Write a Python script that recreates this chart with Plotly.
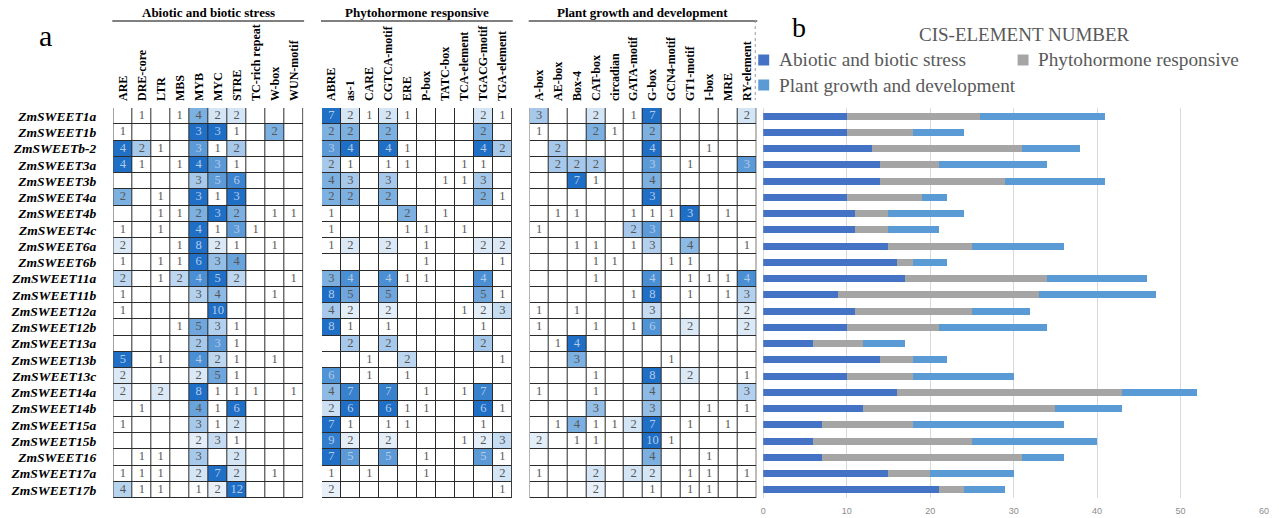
import numpy as np
import plotly.graph_objects as go

# ---- data -------------------------------------------------------------
genes = [
    "ZmSWEET1a", "ZmSWEET1b", "ZmSWEETb-2", "ZmSWEET3a", "ZmSWEET3b", "ZmSWEET4a",
    "ZmSWEET4b", "ZmSWEET4c", "ZmSWEET6a", "ZmSWEET6b", "ZmSWEET11a", "ZmSWEET11b",
    "ZmSWEET12a", "ZmSWEET12b", "ZmSWEET13a", "ZmSWEET13b", "ZmSWEET13c", "ZmSWEET14a",
    "ZmSWEET14b", "ZmSWEET15a", "ZmSWEET15b", "ZmSWEET16", "ZmSWEET17a", "ZmSWEET17b",
]

group_names = ["Abiotic and biotic stress", "Phytohormone responsive",
               "Plant growth and development"]

stress_elements = ["ARE", "DRE-core", "LTR", "MBS", "MYB", "MYC", "STRE",
                   "TC-rich repeat", "W-box", "WUN-motif"]
stress_counts = [
    [0, 1, 0, 1, 4, 2, 2, 0, 0, 0],
    [1, 0, 0, 0, 3, 3, 1, 0, 2, 0],
    [4, 2, 1, 0, 3, 1, 2, 0, 0, 0],
    [4, 1, 0, 1, 4, 3, 1, 0, 0, 0],
    [0, 0, 0, 0, 3, 5, 6, 0, 0, 0],
    [2, 0, 1, 0, 3, 1, 3, 0, 0, 0],
    [0, 0, 1, 1, 2, 3, 2, 0, 1, 1],
    [1, 0, 1, 0, 4, 1, 3, 1, 0, 0],
    [2, 0, 0, 1, 8, 2, 1, 0, 1, 0],
    [1, 0, 1, 1, 6, 3, 4, 0, 0, 0],
    [2, 0, 1, 2, 4, 5, 2, 0, 0, 1],
    [1, 0, 0, 0, 3, 4, 0, 0, 1, 0],
    [1, 0, 0, 0, 0, 10, 0, 0, 0, 0],
    [0, 0, 0, 1, 5, 3, 1, 0, 0, 0],
    [0, 0, 0, 0, 2, 3, 1, 0, 0, 0],
    [5, 0, 1, 0, 4, 2, 1, 0, 1, 0],
    [2, 0, 0, 0, 2, 5, 1, 0, 0, 0],
    [2, 0, 2, 0, 8, 1, 1, 1, 0, 1],
    [0, 1, 0, 0, 4, 1, 6, 0, 0, 0],
    [1, 0, 0, 0, 3, 1, 2, 0, 0, 0],
    [0, 0, 0, 0, 2, 3, 1, 0, 0, 0],
    [0, 1, 1, 0, 3, 0, 2, 0, 0, 0],
    [1, 1, 1, 0, 2, 7, 2, 0, 1, 0],
    [4, 1, 1, 0, 1, 2, 12, 0, 0, 0],
]

hormone_elements = ["ABRE", "as-1", "CARE", "CGTCA-motif", "ERE", "P-box", "TATC-box",
                    "TCA-element", "TGACG-motif", "TGA-element"]
hormone_counts = [
    [7, 2, 1, 2, 1, 0, 0, 0, 2, 1],
    [2, 2, 0, 2, 0, 0, 0, 0, 2, 0],
    [3, 4, 0, 4, 1, 0, 0, 0, 4, 2],
    [2, 1, 0, 1, 1, 0, 0, 1, 1, 0],
    [4, 3, 0, 3, 0, 0, 1, 1, 3, 0],
    [2, 2, 0, 2, 0, 0, 0, 0, 2, 1],
    [1, 0, 0, 0, 2, 0, 1, 0, 0, 0],
    [1, 0, 0, 0, 1, 1, 0, 1, 0, 0],
    [1, 2, 0, 2, 0, 1, 0, 0, 2, 2],
    [0, 0, 0, 0, 0, 1, 0, 0, 0, 1],
    [3, 4, 0, 4, 1, 1, 0, 0, 4, 0],
    [8, 5, 0, 5, 0, 0, 0, 0, 5, 1],
    [4, 2, 0, 2, 0, 0, 0, 1, 2, 3],
    [8, 1, 0, 1, 0, 0, 0, 0, 1, 0],
    [0, 2, 0, 2, 0, 0, 0, 0, 2, 0],
    [0, 0, 1, 0, 2, 0, 0, 0, 0, 1],
    [6, 0, 1, 0, 1, 0, 0, 0, 0, 0],
    [4, 7, 0, 7, 0, 1, 0, 1, 7, 0],
    [2, 6, 0, 6, 1, 1, 0, 0, 6, 1],
    [7, 1, 0, 1, 1, 0, 0, 0, 1, 0],
    [9, 2, 0, 2, 0, 0, 0, 1, 2, 3],
    [7, 5, 0, 5, 0, 1, 0, 0, 5, 1],
    [1, 0, 1, 0, 0, 1, 0, 0, 0, 2],
    [2, 0, 0, 0, 0, 0, 0, 0, 0, 1],
]

growth_elements = ["A-box", "AE-box", "Box-4", "CAT-box", "circadian", "GATA-motif",
                   "G-box", "GCN4-motif", "GT1-motif", "I-box", "MRE", "RY-element"]
growth_counts = [
    [3, 0, 0, 2, 0, 1, 7, 0, 0, 0, 0, 2],
    [1, 0, 0, 2, 1, 0, 2, 0, 0, 0, 0, 0],
    [0, 2, 0, 0, 0, 0, 4, 0, 0, 1, 0, 0],
    [0, 2, 2, 2, 0, 0, 3, 0, 1, 0, 0, 3],
    [0, 0, 7, 1, 0, 0, 4, 0, 0, 0, 0, 0],
    [0, 0, 0, 0, 0, 0, 3, 0, 0, 0, 0, 0],
    [0, 1, 1, 0, 0, 1, 1, 1, 3, 0, 1, 0],
    [1, 0, 0, 0, 0, 2, 3, 0, 0, 0, 0, 0],
    [0, 0, 1, 1, 0, 1, 3, 0, 4, 0, 0, 1],
    [0, 0, 0, 1, 1, 0, 0, 1, 1, 0, 0, 0],
    [0, 0, 0, 1, 0, 0, 4, 0, 1, 1, 1, 4],
    [0, 0, 0, 0, 0, 1, 8, 0, 1, 0, 1, 3],
    [1, 0, 1, 0, 0, 0, 3, 0, 0, 0, 0, 2],
    [1, 0, 0, 1, 0, 1, 6, 0, 2, 0, 0, 2],
    [0, 1, 4, 0, 0, 0, 0, 0, 0, 0, 0, 0],
    [0, 0, 3, 0, 0, 0, 0, 1, 0, 0, 0, 0],
    [0, 0, 0, 1, 0, 0, 8, 0, 2, 0, 0, 1],
    [1, 0, 0, 1, 0, 0, 4, 0, 0, 0, 0, 3],
    [0, 0, 0, 3, 0, 0, 3, 0, 0, 1, 0, 1],
    [0, 1, 4, 1, 1, 2, 7, 0, 1, 0, 1, 0],
    [2, 0, 1, 1, 0, 0, 10, 1, 0, 0, 0, 0],
    [0, 0, 0, 0, 0, 0, 4, 0, 0, 1, 0, 0],
    [1, 0, 0, 2, 0, 2, 2, 0, 1, 1, 0, 1],
    [0, 0, 0, 2, 0, 0, 1, 0, 1, 1, 0, 0],
]

group_colors = ["#4472c4", "#a5a5a5", "#5b9bd5"]

# ---- geometry helpers (pixel -> paper) ---------------------------------
W, H = 1279, 518


def fx(px):
    return px / W


def fy(py):
    return 1 - py / H


SERIF = "Liberation Serif, Times New Roman, serif"
grid_top, grid_bottom = 108, 498
panel_px = [(111, 302), (321, 512), (530, 758)]
bar_px = (765, 1269)

groups = [
    (group_names[0], stress_elements, np.array(stress_counts)),
    (group_names[1], hormone_elements, np.array(hormone_counts)),
    (group_names[2], growth_elements, np.array(growth_counts)),
]

# cell shading: each gene is scaled between 1 and its own maximum count
all_counts = np.hstack([g[2] for g in groups])
row_max = all_counts.max(axis=1, keepdims=True)
n_genes = len(genes)
rows = np.arange(n_genes)

heat_scale = [[0.0, "#ffffff"], [0.12, "#e1edf9"], [0.45, "#86b6e3"],
              [0.75, "#4a8fd3"], [1.0, "#1f6fc6"]]


def note(text, x, y, size, color="#000", **kw):
    return dict(text=text, xref="paper", yref="paper", x=fx(x), y=fy(y),
                xanchor=kw.pop("xanchor", "center"), yanchor="middle",
                showarrow=False, font=dict(family=SERIF, size=size, color=color), **kw)


fig = go.Figure()
layout = {}
shapes = []
annotations = []

for i, (name, elements, counts) in enumerate(groups, start=1):
    n = len(elements)
    shade = np.clip((counts - 1) / np.maximum(row_max - 1, 1), 0, 1)
    xa, ya = f"x{i}", f"y{i}"
    fig.add_trace(go.Heatmap(
        z=shade, x=np.arange(n), y=rows,
        colorscale=heat_scale, zmin=0, zmax=1, showscale=False,
        xgap=1, ygap=1, hoverinfo="skip",
        xaxis=xa, yaxis=ya,
    ))
    # count labels; lighter ink on the darker cells
    rr, cc = np.nonzero(counts)
    fig.add_trace(go.Scatter(
        x=cc, y=rr, mode="text", text=counts[rr, cc].astype(str),
        textposition="middle center",
        textfont=dict(family=SERIF, size=12.5,
                      color=np.where(shade[rr, cc] > 0.62, "#b4cbe8", "#575757").tolist()),
        hoverinfo="skip", showlegend=False, xaxis=xa, yaxis=ya,
    ))
    x0, x1 = panel_px[i - 1]
    layout[f"xaxis{i}"] = dict(
        domain=[fx(x0), fx(x1)], range=[-0.5, n - 0.5], anchor=ya,
        side="top", tickangle=-90, tickmode="array",
        tickvals=list(range(n)), ticktext=elements,
        tickfont=dict(family=SERIF, size=12, color="#000", weight="bold"),
        showgrid=False, zeroline=False, showline=False, ticks="",
        ticklabelstandoff=6, fixedrange=True,
    )
    layout[f"yaxis{i}"] = dict(
        domain=[fy(grid_bottom), fy(grid_top)], range=[n_genes - 0.5, -0.5],
        anchor=xa, tickmode="array", tickvals=list(rows), ticktext=genes,
        showticklabels=(i == 1),
        tickfont=dict(family=SERIF, size=13.5, color="#000",
                      weight="bold", style="italic"),
        showgrid=False, zeroline=False, showline=False, ticks="",
        ticklabelstandoff=16, fixedrange=True,
    )
    # cell borders show through the gaps between heatmap bricks
    shapes.append(dict(type="rect", xref=xa, yref=ya, x0=-0.5, x1=n - 0.5,
                       y0=-0.5, y1=n_genes - 0.5, layer="below",
                       fillcolor="#2b2b2b", line=dict(color="#2b2b2b", width=1.5)))
    # group header with rule underneath
    annotations.append(note(f"<b>{name}</b>", (x0 + x1) / 2, 13, 13))
    shapes.append(dict(type="line", xref="paper", yref="paper",
                       x0=fx(x0 - 1), x1=fx(x1 + 1), y0=fy(21), y1=fy(21),
                       line=dict(color="#000", width=1)))

# ---- stacked totals per group ----------------------------------------
for k, (name, elements, counts) in enumerate(groups):
    fig.add_trace(go.Bar(
        x=counts.sum(axis=1), y=rows, orientation="h", name=name,
        marker=dict(color=group_colors[k], line=dict(width=0)),
        xaxis="x4", yaxis="y4", showlegend=False, hoverinfo="skip",
    ))

layout["xaxis4"] = dict(
    domain=[fx(bar_px[0]), fx(bar_px[1])], range=[0, 60], dtick=10, anchor="y4",
    showgrid=True, gridcolor="#d9d9d9", gridwidth=1,
    zeroline=True, zerolinecolor="#d9d9d9", zerolinewidth=1,
    showline=False, ticks="", ticklabelstandoff=6,
    tickfont=dict(family="Liberation Sans, Arial, sans-serif", size=9, color="#8c8c8c"),
    fixedrange=True,
)
layout["yaxis4"] = dict(
    domain=[fy(grid_bottom), fy(grid_top)], range=[n_genes - 0.5, -0.5], anchor="x4",
    showticklabels=False, showgrid=False, zeroline=False, showline=False,
    fixedrange=True,
)

# ---- panel letters, chart title and legend ----------------------------
annotations += [
    note("a", 43, 36, 30),
    note("b", 801, 27, 28),
    note("CIS-ELEMENT NUMBER", 1028, 35, 19, color="#595959"),
]

legend_pos = [(760, 60), (1021, 60), (760, 85)]
for k, name in enumerate(group_names):
    lx, ly = legend_pos[k]
    shapes.append(dict(type="rect", xref="paper", yref="paper",
                       x0=fx(lx), x1=fx(lx + 11), y0=fy(ly + 5.5), y1=fy(ly - 5.5),
                       fillcolor=group_colors[k], line=dict(width=0)))
    annotations.append(note(name, lx + 19, ly, 19.3, color="#595959", xanchor="left"))

# dotted frame edge of panel b
shapes.append(dict(type="line", xref="paper", yref="paper",
                   x0=fx(757), x1=fx(757), y0=fy(20), y1=fy(100),
                   line=dict(color="#9a9a9a", width=1, dash="dot")))

fig.update_layout(
    width=W, height=H, margin=dict(l=0, r=0, t=0, b=0),
    paper_bgcolor="#ffffff", plot_bgcolor="#ffffff",
    barmode="stack", bargap=0.57,
    shapes=shapes, annotations=annotations, **layout,
)

fig.write_html("out.html", config={"displayModeBar": False})
